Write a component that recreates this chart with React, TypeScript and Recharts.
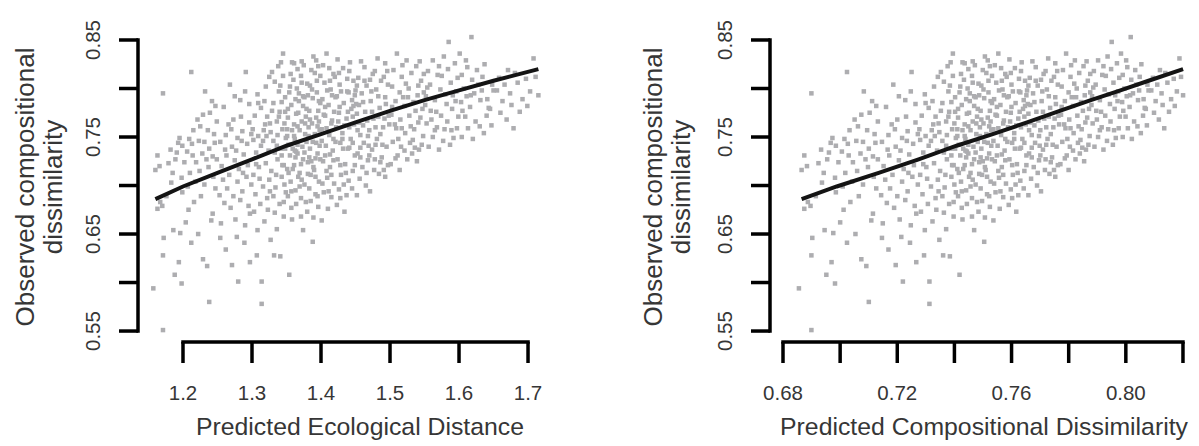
import React from "react";
import { ScatterChart, Scatter, XAxis, YAxis, ReferenceLine } from "recharts";

// site pairs: [predicted ecological distance, observed compositional dissimilarity]
const sitePairs: [number, number][] = [
  [1.157, 0.594], [1.171, 0.551], [1.171, 0.628], [1.172, 0.646], [1.163, 0.676], [1.170, 0.679], [1.163, 0.731],
  [1.160, 0.716], [1.166, 0.720], [1.171, 0.795], [1.188, 0.608], [1.198, 0.599], [1.194, 0.621], [1.186, 0.654],
  [1.196, 0.651], [1.185, 0.713], [1.191, 0.734], [1.195, 0.749], [1.198, 0.708], [1.179, 0.723], [1.176, 0.689],
  [1.167, 0.683], [1.193, 0.744], [1.182, 0.737], [1.199, 0.741], [1.199, 0.693], [1.183, 0.703], [1.189, 0.727],

  [1.204, 0.662], [1.208, 0.675], [1.216, 0.683], [1.222, 0.650], [1.238, 0.580], [1.229, 0.624], [1.235, 0.617],
  [1.212, 0.817], [1.232, 0.797], [1.242, 0.787], [1.221, 0.768], [1.229, 0.773], [1.239, 0.775], [1.206, 0.735],
  [1.214, 0.731], [1.228, 0.733], [1.238, 0.738], [1.210, 0.713], [1.224, 0.715], [1.237, 0.719], [1.249, 0.727],
  [1.244, 0.709], [1.213, 0.743], [1.223, 0.746], [1.246, 0.744], [1.202, 0.724], [1.218, 0.704], [1.231, 0.701],
  [1.247, 0.697], [1.226, 0.689], [1.241, 0.664], [1.212, 0.641], [1.245, 0.753], [1.236, 0.757], [1.225, 0.761],
  [1.249, 0.766], [1.207, 0.699], [1.219, 0.724], [1.243, 0.730], [1.231, 0.745], [1.215, 0.757], [1.234, 0.727],
  [1.247, 0.782], [1.209, 0.748],

  [1.254, 0.646], [1.255, 0.661], [1.262, 0.634], [1.271, 0.618], [1.278, 0.647], [1.280, 0.601], [1.289, 0.641],
  [1.297, 0.621], [1.243, 0.671], [1.256, 0.720], [1.263, 0.731], [1.267, 0.711], [1.275, 0.726], [1.281, 0.717],
  [1.288, 0.732], [1.294, 0.721], [1.258, 0.706], [1.264, 0.697], [1.273, 0.689], [1.279, 0.704], [1.286, 0.694],
  [1.292, 0.709], [1.299, 0.701], [1.260, 0.682], [1.269, 0.677], [1.283, 0.685], [1.295, 0.679], [1.276, 0.665],
  [1.290, 0.659], [1.297, 0.671], [1.254, 0.745], [1.262, 0.752], [1.271, 0.740], [1.279, 0.749], [1.286, 0.756],
  [1.293, 0.743], [1.299, 0.753], [1.266, 0.763], [1.284, 0.771], [1.296, 0.765], [1.259, 0.781], [1.275, 0.792],
  [1.283, 0.788], [1.291, 0.817], [1.273, 0.768], [1.268, 0.804], [1.290, 0.797], [1.296, 0.784], [1.261, 0.737],
  [1.287, 0.713], [1.277, 0.736], [1.270, 0.758], [1.253, 0.690], [1.285, 0.746],

  [1.307, 0.628], [1.308, 0.654], [1.314, 0.601], [1.314, 0.578], [1.332, 0.628], [1.341, 0.627], [1.327, 0.644],
  [1.318, 0.663], [1.336, 0.655], [1.346, 0.668], [1.303, 0.673], [1.312, 0.681], [1.323, 0.675], [1.331, 0.689],
  [1.340, 0.681], [1.349, 0.693], [1.305, 0.691], [1.316, 0.699], [1.325, 0.706], [1.334, 0.698], [1.343, 0.709],
  [1.302, 0.711], [1.310, 0.719], [1.320, 0.723], [1.328, 0.715], [1.337, 0.727], [1.346, 0.721], [1.306, 0.734],
  [1.313, 0.741], [1.324, 0.736], [1.331, 0.746], [1.342, 0.738], [1.349, 0.749], [1.301, 0.758], [1.309, 0.751],
  [1.319, 0.763], [1.327, 0.755], [1.336, 0.766], [1.344, 0.758], [1.304, 0.772], [1.313, 0.780], [1.322, 0.771],
  [1.331, 0.785], [1.340, 0.776], [1.348, 0.791], [1.308, 0.794], [1.320, 0.802], [1.333, 0.807], [1.345, 0.813],
  [1.329, 0.817], [1.345, 0.836], [1.338, 0.823], [1.316, 0.746], [1.343, 0.731], [1.326, 0.694], [1.311, 0.707],
  [1.347, 0.701], [1.321, 0.751], [1.335, 0.711], [1.302, 0.747], [1.318, 0.787], [1.339, 0.797], [1.326, 0.764],
  [1.348, 0.776], [1.306, 0.722], [1.333, 0.734],

  [1.354, 0.608], [1.388, 0.642], [1.371, 0.668], [1.389, 0.667], [1.357, 0.677], [1.378, 0.683], [1.396, 0.678],
  [1.352, 0.689], [1.363, 0.695], [1.371, 0.687], [1.383, 0.697], [1.392, 0.691], [1.356, 0.704], [1.367, 0.709],
  [1.376, 0.701], [1.385, 0.711], [1.397, 0.704], [1.351, 0.717], [1.361, 0.721], [1.369, 0.713], [1.381, 0.724],
  [1.390, 0.716], [1.399, 0.727], [1.355, 0.731], [1.364, 0.735], [1.374, 0.727], [1.384, 0.738], [1.395, 0.733],
  [1.353, 0.742], [1.362, 0.748], [1.373, 0.740], [1.382, 0.751], [1.393, 0.744], [1.358, 0.757], [1.366, 0.761],
  [1.377, 0.753], [1.387, 0.764], [1.398, 0.757], [1.352, 0.770], [1.364, 0.774], [1.372, 0.766], [1.383, 0.777],
  [1.393, 0.770], [1.357, 0.783], [1.368, 0.787], [1.379, 0.779], [1.388, 0.790], [1.399, 0.785], [1.354, 0.796],
  [1.365, 0.800], [1.374, 0.792], [1.384, 0.803], [1.394, 0.796], [1.360, 0.809], [1.371, 0.813], [1.380, 0.805],
  [1.391, 0.816], [1.361, 0.826], [1.372, 0.828], [1.389, 0.833], [1.366, 0.820], [1.396, 0.823], [1.359, 0.738],
  [1.381, 0.712], [1.369, 0.699], [1.391, 0.753], [1.376, 0.791], [1.361, 0.763], [1.386, 0.725], [1.398, 0.741],
  [1.351, 0.758], [1.379, 0.745], [1.394, 0.808], [1.367, 0.775], [1.385, 0.684], [1.358, 0.665], [1.374, 0.654],
  [1.397, 0.766], [1.363, 0.729], [1.382, 0.760],

  [1.408, 0.836], [1.424, 0.830], [1.441, 0.818], [1.403, 0.824], [1.418, 0.815], [1.432, 0.821], [1.447, 0.808],
  [1.405, 0.806], [1.414, 0.799], [1.427, 0.804], [1.438, 0.797], [1.449, 0.793], [1.402, 0.789], [1.411, 0.783],
  [1.421, 0.791], [1.433, 0.785], [1.444, 0.779], [1.406, 0.772], [1.416, 0.767], [1.426, 0.775], [1.437, 0.769],
  [1.448, 0.763], [1.401, 0.758], [1.412, 0.752], [1.422, 0.760], [1.431, 0.754], [1.443, 0.748], [1.407, 0.741],
  [1.417, 0.736], [1.428, 0.744], [1.439, 0.738], [1.449, 0.731], [1.403, 0.725], [1.413, 0.719], [1.424, 0.727],
  [1.435, 0.722], [1.446, 0.715], [1.409, 0.708], [1.419, 0.702], [1.429, 0.711], [1.440, 0.705], [1.404, 0.693],
  [1.415, 0.688], [1.426, 0.696], [1.437, 0.690], [1.410, 0.676], [1.423, 0.680], [1.401, 0.664], [1.434, 0.673],
  [1.445, 0.697], [1.418, 0.748], [1.441, 0.760], [1.406, 0.781], [1.429, 0.797], [1.447, 0.782], [1.413, 0.732],
  [1.436, 0.713], [1.420, 0.812], [1.442, 0.827], [1.432, 0.738], [1.408, 0.715], [1.425, 0.766], [1.446, 0.744],
  [1.416, 0.793], [1.439, 0.776], [1.428, 0.687],

  [1.452, 0.690], [1.471, 0.694], [1.493, 0.709], [1.465, 0.700], [1.484, 0.712], [1.456, 0.707], [1.477, 0.716],
  [1.497, 0.721], [1.460, 0.719], [1.468, 0.726], [1.488, 0.729], [1.453, 0.733], [1.474, 0.737], [1.495, 0.740],
  [1.462, 0.744], [1.481, 0.748], [1.457, 0.752], [1.470, 0.757], [1.490, 0.760], [1.455, 0.765], [1.476, 0.769],
  [1.498, 0.772], [1.464, 0.776], [1.485, 0.780], [1.451, 0.784], [1.472, 0.787], [1.493, 0.791], [1.459, 0.795],
  [1.480, 0.799], [1.466, 0.803], [1.487, 0.808], [1.454, 0.811], [1.475, 0.815], [1.496, 0.818], [1.463, 0.822],
  [1.493, 0.826], [1.482, 0.831], [1.458, 0.828], [1.469, 0.741], [1.486, 0.753], [1.499, 0.763], [1.461, 0.762],
  [1.478, 0.727], [1.494, 0.784], [1.452, 0.774], [1.473, 0.797], [1.489, 0.742], [1.466, 0.713], [1.483, 0.771],
  [1.457, 0.739], [1.497, 0.804], [1.471, 0.809], [1.450, 0.798], [1.479, 0.760], [1.491, 0.716],

  [1.510, 0.836], [1.524, 0.829], [1.538, 0.823], [1.505, 0.819], [1.517, 0.812], [1.531, 0.816], [1.545, 0.808],
  [1.503, 0.802], [1.514, 0.796], [1.527, 0.800], [1.540, 0.793], [1.508, 0.787], [1.521, 0.782], [1.534, 0.786],
  [1.547, 0.779], [1.502, 0.773], [1.515, 0.768], [1.528, 0.772], [1.541, 0.765], [1.509, 0.759], [1.522, 0.754],
  [1.535, 0.758], [1.548, 0.751], [1.504, 0.745], [1.516, 0.740], [1.529, 0.744], [1.542, 0.737], [1.511, 0.731],
  [1.525, 0.727], [1.539, 0.725], [1.514, 0.716], [1.501, 0.722], [1.532, 0.733], [1.546, 0.742], [1.519, 0.791],
  [1.543, 0.828], [1.507, 0.763], [1.537, 0.777], [1.523, 0.805], [1.549, 0.796], [1.512, 0.748], [1.530, 0.761],
  [1.544, 0.770], [1.518, 0.824], [1.536, 0.739],

  [1.585, 0.848], [1.562, 0.829], [1.578, 0.833], [1.594, 0.826], [1.555, 0.818], [1.569, 0.814], [1.584, 0.820],
  [1.598, 0.811], [1.558, 0.804], [1.573, 0.799], [1.588, 0.806], [1.552, 0.792], [1.565, 0.788], [1.580, 0.794],
  [1.595, 0.787], [1.559, 0.777], [1.574, 0.772], [1.590, 0.779], [1.553, 0.764], [1.568, 0.760], [1.583, 0.766],
  [1.597, 0.759], [1.562, 0.750], [1.577, 0.746], [1.592, 0.749], [1.556, 0.740], [1.571, 0.737], [1.587, 0.742],
  [1.565, 0.757], [1.599, 0.771], [1.551, 0.783], [1.582, 0.784], [1.596, 0.797], [1.575, 0.813], [1.560, 0.768],
  [1.589, 0.757],

  [1.618, 0.853], [1.601, 0.836], [1.626, 0.819], [1.610, 0.829], [1.637, 0.825], [1.604, 0.814], [1.619, 0.809],
  [1.634, 0.812], [1.648, 0.804], [1.607, 0.800], [1.622, 0.795], [1.650, 0.798], [1.603, 0.786], [1.616, 0.781],
  [1.631, 0.788], [1.645, 0.779], [1.609, 0.771], [1.624, 0.766], [1.640, 0.772], [1.604, 0.750], [1.613, 0.759],
  [1.630, 0.761], [1.643, 0.780], [1.647, 0.762], [1.620, 0.748], [1.636, 0.754], [1.611, 0.792], [1.628, 0.804],
  [1.641, 0.789],

  [1.671, 0.819], [1.703, 0.797], [1.715, 0.793], [1.669, 0.768], [1.679, 0.759], [1.674, 0.795], [1.708, 0.831],
  [1.658, 0.811], [1.663, 0.787], [1.685, 0.806], [1.692, 0.789], [1.660, 0.775], [1.688, 0.776], [1.697, 0.810],
  [1.655, 0.798], [1.681, 0.816], [1.666, 0.804], [1.699, 0.782], [1.711, 0.812], [1.676, 0.783],

  // dense core around 1.33–1.50
  [1.337, 0.752], [1.352, 0.779], [1.341, 0.803], [1.366, 0.742], [1.359, 0.717], [1.372, 0.806], [1.383, 0.729],
  [1.378, 0.771], [1.395, 0.761], [1.401, 0.746], [1.386, 0.819], [1.363, 0.789], [1.347, 0.764], [1.409, 0.798],
  [1.418, 0.726], [1.392, 0.709], [1.376, 0.734], [1.355, 0.802], [1.369, 0.757], [1.381, 0.793], [1.404, 0.773],
  [1.413, 0.808], [1.397, 0.787], [1.388, 0.745], [1.371, 0.722], [1.343, 0.786], [1.358, 0.827], [1.366, 0.733],
  [1.427, 0.781], [1.434, 0.762], [1.421, 0.745], [1.415, 0.764], [1.399, 0.813], [1.384, 0.768], [1.374, 0.782],
  [1.361, 0.751], [1.348, 0.738], [1.339, 0.771], [1.353, 0.713], [1.368, 0.795], [1.392, 0.728], [1.406, 0.731],
  [1.423, 0.792], [1.438, 0.810], [1.446, 0.771], [1.452, 0.803], [1.461, 0.786], [1.474, 0.776], [1.468, 0.751],
  [1.457, 0.729], [1.483, 0.792], [1.491, 0.812], [1.478, 0.818], [1.463, 0.808], [1.445, 0.788], [1.431, 0.748],
  [1.419, 0.776], [1.408, 0.759], [1.396, 0.777], [1.387, 0.799], [1.377, 0.764], [1.362, 0.736], [1.351, 0.751],
  [1.344, 0.721], [1.357, 0.694], [1.372, 0.706], [1.389, 0.719], [1.402, 0.702], [1.415, 0.711], [1.428, 0.721],
  [1.441, 0.739], [1.453, 0.757], [1.467, 0.767], [1.479, 0.742], [1.492, 0.769], [1.486, 0.724], [1.470, 0.731],
  [1.449, 0.721], [1.433, 0.701], [1.411, 0.694], [1.395, 0.689], [1.380, 0.673], [1.364, 0.681], [1.346, 0.683],
  [1.333, 0.672], [1.322, 0.687], [1.336, 0.741], [1.329, 0.777], [1.317, 0.757], [1.309, 0.785], [1.325, 0.812],
  [1.342, 0.827], [1.356, 0.815], [1.375, 0.824], [1.393, 0.829], [1.412, 0.821], [1.426, 0.816], [1.440, 0.796],
  [1.455, 0.783], [1.503, 0.781], [1.517, 0.759], [1.526, 0.791], [1.533, 0.747], [1.541, 0.803], [1.521, 0.736],
  [1.508, 0.728], [1.554, 0.801], [1.567, 0.776], [1.579, 0.758], [1.591, 0.793], [1.571, 0.823], [1.549, 0.815],
  [1.605, 0.777], [1.617, 0.793], [1.633, 0.798], [1.612, 0.822],
];

// fitted GDM curve, sampled along the ecological distance axis
const fitDistance = [1.16, 1.2, 1.25, 1.3, 1.35, 1.4, 1.45, 1.5, 1.55, 1.6, 1.65, 1.715];
const fitObserved = [0.686, 0.699, 0.713, 0.727, 0.741, 0.753, 0.765, 0.777, 0.788, 0.798, 0.808, 0.82];

const distanceTicks = [1.2, 1.3, 1.4, 1.5, 1.6, 1.7];
const dissimTicks = [0.68, 0.7, 0.72, 0.74, 0.76, 0.78, 0.8, 0.82];
const dissimLabelled = [0.68, 0.72, 0.76, 0.8];
const observedTicks = [0.55, 0.6, 0.65, 0.7, 0.75, 0.8, 0.85];
const observedLabelled = [0.55, 0.65, 0.75, 0.85];

// GDM link: ecological distance -> predicted compositional dissimilarity
const toDissim = (d: number) => 1 - Math.exp(-d);

const FONT = '"Liberation Sans", Arial, Helvetica, sans-serif';
const TEXT = "#363636";
const Y_DOMAIN: [number, number] = [0.5387, 0.8603];

const Square = (p: any) => (
  <rect x={p.cx - 2.25} y={p.cy - 2.25} width={4.5} height={4.5} fill="#adadb0" />
);

const isIn = (v: number, list: number[]) => list.some((t) => Math.abs(t - v) < 1e-6);

type PanelProps = {
  width: number;
  yAxisWidth: number;
  marginRight: number;
  xDomain: [number, number];
  xTicks: number[];
  xLabelled: number[];
  xDigits: number;
  xTitle: string;
  xTitleOffset: number;
  yTitleOffsets: [number, number];
  points: { x: number; y: number }[];
  fit: { x: number; y: number }[];
};

function Panel(props: PanelProps) {
  const {
    width, yAxisWidth, marginRight, xDomain, xTicks, xLabelled, xDigits,
    xTitle, xTitleOffset, yTitleOffsets, points, fit,
  } = props;

  const xTick = (p: any) => {
    const v = p.payload.value;
    if (!isIn(v, xLabelled)) return <g />;
    return (
      <text x={p.x} y={p.y + 35} textAnchor="middle" fontSize={20.5} fontFamily={FONT} fill={TEXT}>
        {v.toFixed(xDigits)}
      </text>
    );
  };

  const yTick = (p: any) => {
    const v = p.payload.value;
    if (!isIn(v, observedLabelled)) return <g />;
    const bx = p.x - 17;
    return (
      <text
        x={bx}
        y={p.y}
        transform={`rotate(-90, ${bx}, ${p.y})`}
        textAnchor="middle"
        fontSize={20.5}
        fontFamily={FONT}
        fill={TEXT}
      >
        {v.toFixed(2)}
      </text>
    );
  };

  const xTitleLabel = (p: any) => {
    const vb = p.viewBox;
    return (
      <text x={vb.x + xTitleOffset} y={vb.y + 93} textAnchor="middle" fontSize={24.8} fontFamily={FONT} fill={TEXT}>
        {xTitle}
      </text>
    );
  };

  const yTitleLabel = () => {
    const cy = 187;
    return (
      <g fontSize={26} fontFamily={FONT} fill={TEXT}>
        <text x={yTitleOffsets[0]} y={cy} transform={`rotate(-90, ${yTitleOffsets[0]}, ${cy})`} textAnchor="middle">
          Observed compositional
        </text>
        <text x={yTitleOffsets[1]} y={cy} transform={`rotate(-90, ${yTitleOffsets[1]}, ${cy})`} textAnchor="middle">
          dissimilarity
        </text>
      </g>
    );
  };

  const axisLine = { stroke: "#000", strokeWidth: 3.5 };

  return (
    <ScatterChart width={width} height={446} margin={{ top: 30, right: marginRight, bottom: 0, left: 0 }}>
      <XAxis
        dataKey="x"
        type="number"
        domain={xDomain}
        ticks={xTicks}
        interval={0}
        allowDataOverflow
        height={104}
        tickSize={21}
        axisLine={false}
        tickLine={axisLine}
        tick={xTick}
        label={xTitleLabel}
      />
      <YAxis
        dataKey="y"
        type="number"
        domain={Y_DOMAIN}
        ticks={observedTicks}
        interval={0}
        allowDataOverflow
        width={yAxisWidth}
        tickSize={19}
        axisLine={false}
        tickLine={axisLine}
        tick={yTick}
        label={yTitleLabel}
      />
      <Scatter data={points} shape={Square} isAnimationActive={false} />
      <Scatter
        data={fit}
        line={{ stroke: "#141414", strokeWidth: 4 }}
        shape={() => <g />}
        isAnimationActive={false}
      />
      <ReferenceLine
        segment={[{ x: xTicks[0], y: Y_DOMAIN[0] }, { x: xTicks[xTicks.length - 1], y: Y_DOMAIN[0] }]}
        stroke="#000"
        strokeWidth={3.5}
        strokeLinecap="square"
      />
      <ReferenceLine
        segment={[{ x: xDomain[0], y: observedTicks[0] }, { x: xDomain[0], y: observedTicks[observedTicks.length - 1] }]}
        stroke="#000"
        strokeWidth={3.5}
        strokeLinecap="square"
      />
    </ScatterChart>
  );
}

export default function App() {
  const leftPoints = sitePairs.map(([d, o]) => ({ x: d, y: o }));
  const rightPoints = sitePairs.map(([d, o]) => ({ x: toDissim(d), y: o }));
  const leftFit = fitDistance.map((d, i) => ({ x: d, y: fitObserved[i] }));
  const rightFit = fitDistance.map((d, i) => ({ x: toDissim(d), y: fitObserved[i] }));

  return (
    <div style={{ position: "absolute", left: 0, top: 0, width: 1199, height: 446, background: "#fff", display: "flex" }}>
      <Panel
        width={560}
        yAxisWidth={138}
        marginRight={15}
        xDomain={[1.1348, 1.7246]}
        xTicks={distanceTicks}
        xLabelled={distanceTicks}
        xDigits={1}
        xTitle="Predicted Ecological Distance"
        xTitleOffset={222}
        yTitleOffsets={[34, 62]}
        points={leftPoints}
        fit={leftFit}
      />
      <Panel
        width={639}
        yAxisWidth={210}
        marginRight={7}
        xDomain={[0.67545, 0.82316]}
        xTicks={dissimTicks}
        xLabelled={dissimLabelled}
        xDigits={2}
        xTitle="Predicted Compositional Dissimilarity"
        xTitleOffset={214}
        yTitleOffsets={[102, 130]}
        points={rightPoints}
        fit={rightFit}
      />
    </div>
  );
}
